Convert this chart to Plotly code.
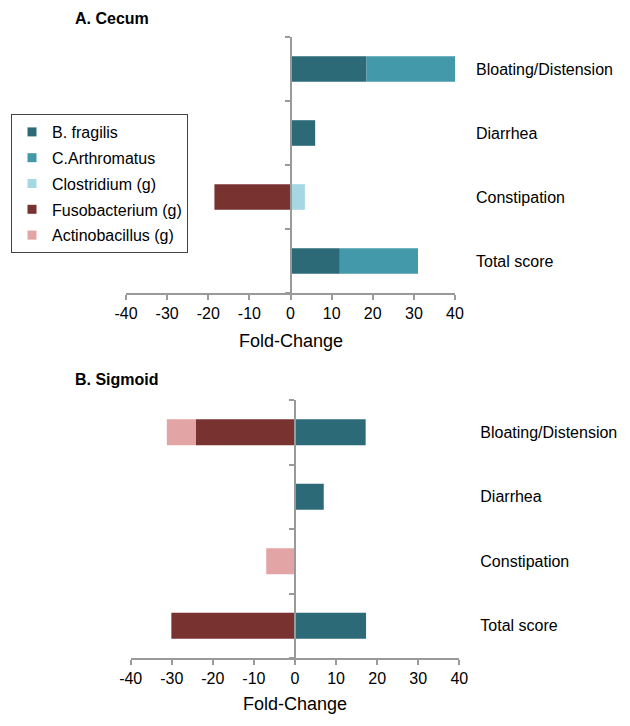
import plotly.graph_objects as go

# categories (top to bottom in the chart)
symptoms = ["Bloating/Distension", "Diarrhea", "Constipation", "Total score"]
taxa = ["B. fragilis", "C.Arthromatus", "Clostridium (g)", "Fusobacterium (g)", "Actinobacillus (g)"]
colors = ["#2D6A78", "#4398AA", "#A6D8E4", "#783230", "#E2A4A4"]

# fold-change per taxon, in the order of symptoms
cecum = {
    "B. fragilis": [18.5, 6, 0, 12],
    "C.Arthromatus": [21.5, 0, 0, 19],
    "Clostridium (g)": [0, 0, 3.5, 0],
    "Fusobacterium (g)": [0, 0, -18.5, 0],
    "Actinobacillus (g)": [0, 0, 0, 0],
}
sigmoid = {
    "B. fragilis": [17.2, 7, 0, 17.3],
    "C.Arthromatus": [0, 0, 0, 0],
    "Clostridium (g)": [0, 0, 0, 0],
    "Fusobacterium (g)": [-24.2, 0, 0, -30.1],
    "Actinobacillus (g)": [-7, 0, -7, 0],
}

xticks = [-40, -30, -20, -10, 0, 10, 20, 30, 40]
xticktext = ["-40", "-30", "-20", "-10", "0", "10", "20", "30", "40"]

# page body has an 8px margin, so the figure is drawn 8px smaller and
# all positions below are given in window pixels minus that offset
OFF = 8
W, H = 630 - 2 * OFF, 726 - 2 * OFF
FONT = "Liberation Sans, Arial, sans-serif"
AXIS_GRAY = "#9a9a9a"


def px_x(v):
    return (v - OFF) / W


def px_y(v):
    return 1 - (v - OFF) / H


fig = go.Figure()

for data, xa, ya in [(cecum, "x", "y"), (sigmoid, "x2", "y2")]:
    for name, col in zip(taxa, colors):
        fig.add_trace(go.Bar(
            y=symptoms, x=data[name], orientation="h",
            marker=dict(color=col, line=dict(width=0)),
            name=name, showlegend=False, width=0.4,
            xaxis=xa, yaxis=ya,
        ))

# empty traces that carry the zero-line axes
fig.add_trace(go.Scatter(x=[None], y=[None], xaxis="x", yaxis="y3", showlegend=False, hoverinfo="skip"))
fig.add_trace(go.Scatter(x=[None], y=[None], xaxis="x2", yaxis="y4", showlegend=False, hoverinfo="skip"))

# legend entries with small square markers
for i, (name, col) in enumerate(zip(taxa, colors)):
    fig.add_trace(go.Scatter(
        x=[None], y=[None], mode="markers", name=name,
        marker=dict(symbol="square", size=9, color=col),
        legendgroup=f"g{i}", xaxis="x", yaxis="y",
    ))

xcommon = dict(
    range=[-40, 40], tickvals=xticks, ticktext=xticktext, ticks="outside",
    ticklen=5, tickwidth=1.5, tickcolor=AXIS_GRAY, showline=True,
    linecolor=AXIS_GRAY, linewidth=2, showgrid=False, zeroline=False,
    automargin=False, tickfont=dict(size=16, color="#000"),
)
ycommon = dict(
    type="category", categoryarray=symptoms[::-1], categoryorder="array",
    range=[-0.5, 3.5], side="right", showline=False, ticks="", showgrid=False,
    zeroline=False, automargin=False, ticklabelstandoff=20,
    tickfont=dict(size=16, color="#000"),
)
zcommon = dict(
    range=[-0.5, 3.5], tickvals=[-0.5, 0.5, 1.5, 2.5, 3.5], ticks="outside",
    ticklen=5, tickwidth=1.5, tickcolor=AXIS_GRAY, showticklabels=False,
    showline=True, linecolor=AXIS_GRAY, linewidth=2, showgrid=False,
    zeroline=False, anchor="free", side="left", automargin=False,
)

fig.update_layout(
    width=W, height=H,
    margin=dict(l=0, r=0, t=0, b=0),
    paper_bgcolor="white", plot_bgcolor="rgba(0,0,0,0)",
    font=dict(family=FONT, color="#000"),
    barmode="relative",
    xaxis=dict(domain=[px_x(126), px_x(455)], anchor="y", **xcommon),
    yaxis=dict(domain=[px_y(293), px_y(37)], anchor="x", **ycommon),
    xaxis2=dict(domain=[px_x(130.7), px_x(459.3)], anchor="y2", **xcommon),
    yaxis2=dict(domain=[px_y(658), px_y(400)], anchor="x2", **ycommon),
    yaxis3=dict(overlaying="y", position=px_x(290.5), **zcommon),
    yaxis4=dict(overlaying="y2", position=px_x(295), **zcommon),
    showlegend=True,
    legend=dict(
        x=px_x(11), y=px_y(114), xanchor="left", yanchor="top",
        bordercolor="#444", borderwidth=1, bgcolor="white",
        font=dict(size=16, color="#000"), tracegroupgap=2,
        traceorder="grouped", entrywidth=150,
    ),
    annotations=[
        dict(text="<b>A. Cecum</b>", x=px_x(73), y=1, xref="paper", yref="paper",
             xanchor="left", yanchor="top", showarrow=False, font=dict(size=16)),
        dict(text="<b>B. Sigmoid</b>", x=px_x(73), y=px_y(379), xref="paper", yref="paper",
             xanchor="left", yanchor="middle", showarrow=False, font=dict(size=16)),
        dict(text="Fold-Change", x=px_x(290.5), y=px_y(341), xref="paper", yref="paper",
             xanchor="center", yanchor="middle", showarrow=False, font=dict(size=18)),
        dict(text="Fold-Change", x=px_x(295), y=px_y(704), xref="paper", yref="paper",
             xanchor="center", yanchor="middle", showarrow=False, font=dict(size=18)),
    ],
)

fig.write_html("out.html")
